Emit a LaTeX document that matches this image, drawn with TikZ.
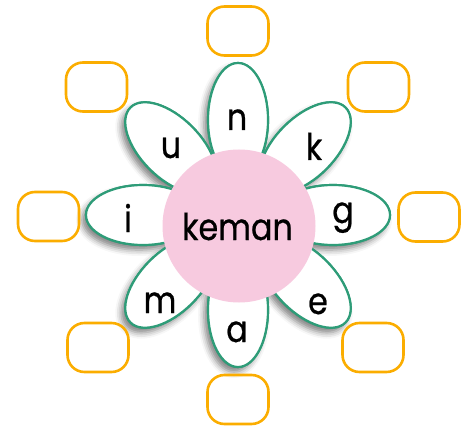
\documentclass[tikz,border=0pt]{standalone}
\usepackage{fontspec}
\setmainfont{Poppins}
\newfontfamily\letterfont[FakeStretch=0.86,FakeBold=0.6]{Poppins}
\usetikzlibrary{shapes.geometric,shadows.blur,calc}
\definecolor{petalgreen}{HTML}{2E9C78}
\definecolor{boxorange}{HTML}{FBAD00}
\definecolor{centerpink}{HTML}{F7CADF}
\tikzset{
  petal/.style={ellipse, draw=petalgreen, fill=white, line width=2.2pt,
    minimum width=114pt, minimum height=60pt, inner sep=0pt},
  petalshadow/.style={petal, blur shadow={shadow xshift=-4pt, shadow yshift=-5pt,
    shadow blur radius=6pt, shadow opacity=50}},
  letter/.style={anchor=base, font=\letterfont\fontsize{37}{37}\selectfont, inner sep=0pt},
  answerbox/.style={draw=boxorange, line width=2.6pt, rounded corners=17pt,
    minimum width=61pt, minimum height=49pt, inner sep=0pt},
}
\begin{document}
\begin{tikzpicture}[x=1pt,y=1pt]
\useasboundingbox (0,0) rectangle (473,426);
\coordinate (fc) at (238,211);
% shadows first
\foreach \a in {0,45,...,315}{
  \node[petalshadow, rotate=\a] at ($(fc)+(\a:95)$) {};
}
% petals
\foreach \a/\n in {0/p0,45/p45,90/p90,135/p135,180/p180,225/p225,270/p270,315/p315}{
  \node[petal, rotate=\a] (\n) at ($(fc)+(\a:95)$) {};
}
% centre
\node[circle, fill=centerpink, minimum size=153pt, inner sep=0pt] (centre) at (239,200) {};
\node[letter] (wk) at (237.5,186) {keman};
% letters
\node[letter] (ln) at (237,296) {n};
\node[letter] (lk) at (314,266) {k};
\node[letter] (lu) at (171,268) {u};
\node[letter] (li) at (128,194) {i};
\node[letter] (lg) at (343,203) {g};
\node[letter] (lm) at (160,113) {m};
\node[letter] (la) at (237,84) {a};
\node[letter] (le) at (318,112) {e};
% answer boxes
\node[answerbox] (b1) at (238,395) {};
\node[answerbox] (b2) at (96.5,339) {};
\node[answerbox] (b3) at (378.5,339) {};
\node[answerbox] (b4) at (48.5,209.5) {};
\node[answerbox] (b5) at (429,209) {};
\node[answerbox] (b6) at (98,78.5) {};
\node[answerbox] (b7) at (373,78.5) {};
\node[answerbox] (b8) at (238,26.5) {};
\end{tikzpicture}
\end{document}
